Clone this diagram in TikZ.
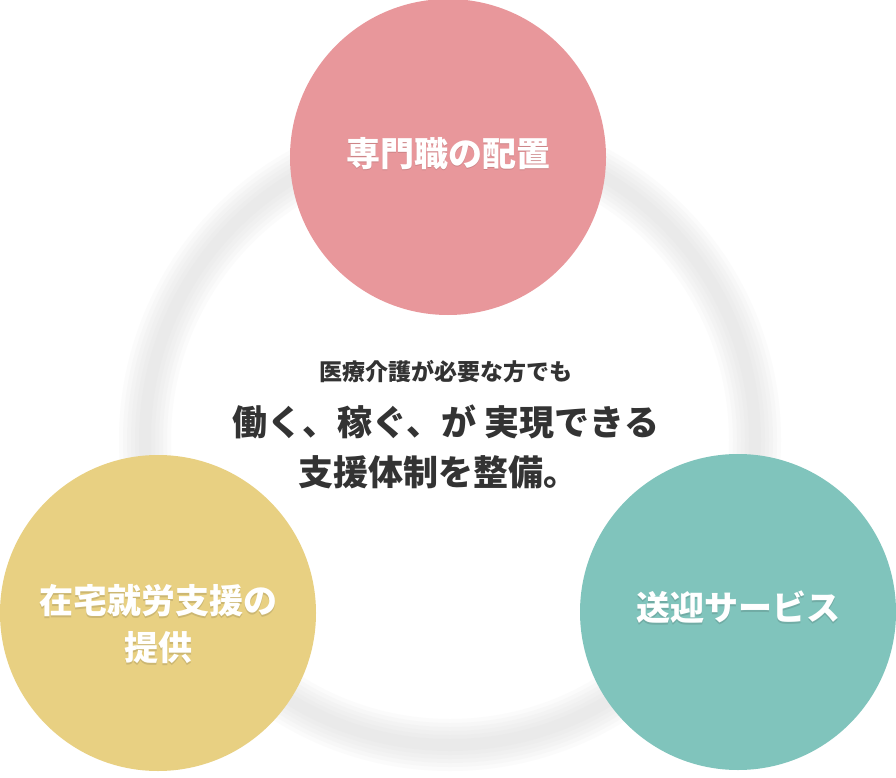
\documentclass[tikz,border=0pt]{standalone}
\usepackage{fontspec}
\setmainfont{Noto Sans CJK JP}
\usepackage{xcolor}
\usepackage{tikz}
\usetikzlibrary{positioning,calc}
\definecolor{pinkc}{HTML}{E8979B}
\definecolor{yellowc}{HTML}{E8D082}
\definecolor{tealc}{HTML}{80C4BC}
\definecolor{ringc}{HTML}{D0D0D0}
\definecolor{inkc}{HTML}{333333}
\newcommand{\glowtext}[2]{\rlap{\textcolor{#1}{\hspace{0.5pt}\raisebox{-1.4pt}{#2}}}#2}
\tikzset{
  bubble/.style={circle, minimum size=316pt, inner sep=0pt},
  bubtxt/.style={text=white, font=\bfseries\fontsize{34}{47}\selectfont, align=center},
  ringline/.style={draw=ringc},
  lead/.style={text=inkc, font=\bfseries\fontsize{23}{28}\selectfont},
  headline/.style={text=inkc, font=\bfseries\fontsize{35}{40}\selectfont}}

\begin{document}
\begin{tikzpicture}[x=1pt, y=-1pt, node distance=12pt]
  \useasboundingbox (0,0) rectangle (896,778);
  \fill[white] (0,0) rectangle (896,778);
  \coordinate (hub) at (450,440);
  \foreach \w in {52,44,36,28,20,12}
    \draw[ringline, line width=\w pt, opacity=0.08] (hub) circle (305);
  \node[bubble, fill=pinkc] (staff) at (448,157) {};
  \node[bubble, fill=yellowc] (work) at (158,613) {};
  \node[bubble, fill=tealc] (ride) at (738,612) {};
  \node[bubtxt] (stafftxt) at ($(staff)+(0,-3)$) {\glowtext{pinkc!88!black}{専門職の配置}};
  \node[bubtxt] (worktxt) at ($(work)+(0,12)$)
    {\glowtext{yellowc!88!black}{在宅就労支援の}\\\glowtext{yellowc!88!black}{提供}};
  \node[bubtxt] (ridetxt) at ($(ride)+(0,-4)$) {\glowtext{tealc!88!black}{送迎サービス}};
  \node[lead] (msg1) at (446,372) {医療介護が必要な方でも};
  \node[headline] (msg2) at (446,422) {働く、稼ぐ、が 実現できる};
  \node[headline] (msg3) at (438,472) {支援体制を整備。};
\end{tikzpicture}
\end{document}
